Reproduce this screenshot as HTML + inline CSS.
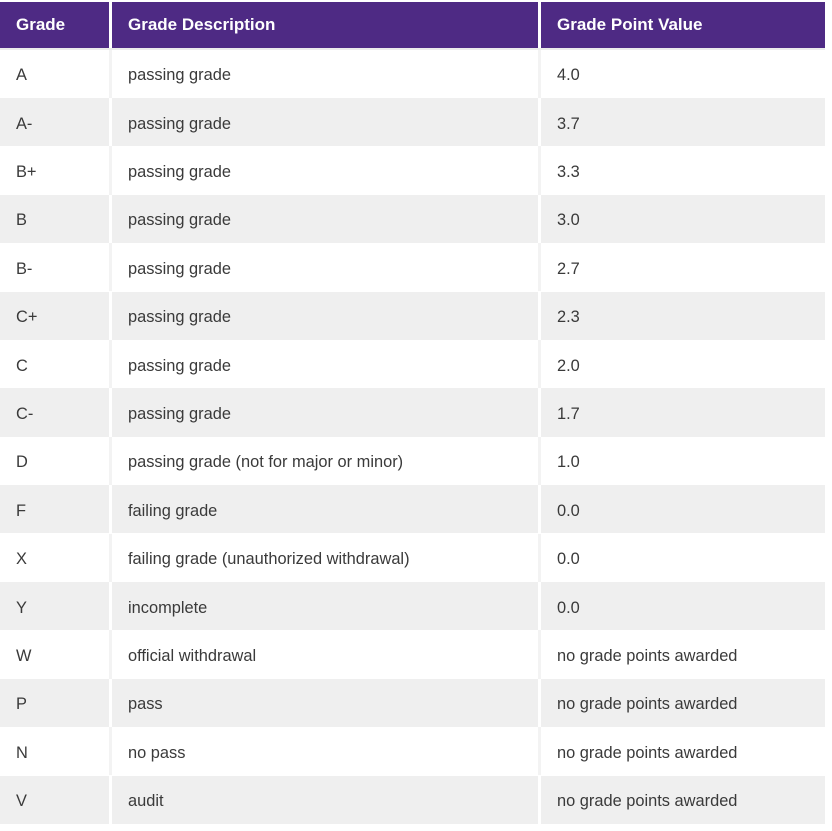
<!DOCTYPE html>
<html>
<head>
<meta charset="utf-8">
<style>
  html, body { margin: 0; padding: 0; background: #ffffff; }
  body { width: 832px; height: 831px; position: relative; overflow: hidden;
         font-family: "Liberation Sans", Arial, sans-serif; }
  .hdr { position: absolute; top: 2px; height: 46px; background: #4e2a84; color: #ffffff;
         font-weight: bold; font-size: 17px; line-height: 46px; box-sizing: border-box; padding-left: 16px; white-space: nowrap; }
  .line { position: absolute; left: 0; width: 825px; top: 48px; height: 2px; background: #ececec; }
  .row { position: absolute; left: 0; width: 825px; height: 48.4px; }
  .row.g { background: #efefef; }
  .row.w { background: #ffffff; }
  .cell { position: absolute; top: 0; height: 100%; display: flex; align-items: center;
          font-size: 16.4px; color: #3a3a3a; padding-left: 16px; padding-top: 4px; box-sizing: border-box; white-space: nowrap; }
  .c1 { left: 0; width: 109px; }
  .c2 { left: 112px; width: 426px; }
  .c3 { left: 541px; width: 284px; }
  .sep { position: absolute; top: 0; height: 100%; width: 3px; }
  .row.g .sep { background: #ffffff; }
  .row.w .sep { background: #f3f3f3; }
  .s1 { left: 109px; }
  .s2 { left: 538px; }
</style>
</head>
<body>
  <div class="hdr" style="left:0;width:109px;">Grade</div>
  <div class="hdr" style="left:112px;width:426px;">Grade Description</div>
  <div class="hdr" style="left:541px;width:284px;">Grade Point Value</div>
  <div class="line"></div>

  <div class="row w" style="top:49.5px"><div class="sep s1"></div><div class="sep s2"></div><div class="cell c1">A</div><div class="cell c2">passing grade</div><div class="cell c3">4.0</div></div>
  <div class="row g" style="top:97.9px"><div class="sep s1"></div><div class="sep s2"></div><div class="cell c1">A-</div><div class="cell c2">passing grade</div><div class="cell c3">3.7</div></div>
  <div class="row w" style="top:146.3px"><div class="sep s1"></div><div class="sep s2"></div><div class="cell c1">B+</div><div class="cell c2">passing grade</div><div class="cell c3">3.3</div></div>
  <div class="row g" style="top:194.7px"><div class="sep s1"></div><div class="sep s2"></div><div class="cell c1">B</div><div class="cell c2">passing grade</div><div class="cell c3">3.0</div></div>
  <div class="row w" style="top:243.1px"><div class="sep s1"></div><div class="sep s2"></div><div class="cell c1">B-</div><div class="cell c2">passing grade</div><div class="cell c3">2.7</div></div>
  <div class="row g" style="top:291.5px"><div class="sep s1"></div><div class="sep s2"></div><div class="cell c1">C+</div><div class="cell c2">passing grade</div><div class="cell c3">2.3</div></div>
  <div class="row w" style="top:339.9px"><div class="sep s1"></div><div class="sep s2"></div><div class="cell c1">C</div><div class="cell c2">passing grade</div><div class="cell c3">2.0</div></div>
  <div class="row g" style="top:388.3px"><div class="sep s1"></div><div class="sep s2"></div><div class="cell c1">C-</div><div class="cell c2">passing grade</div><div class="cell c3">1.7</div></div>
  <div class="row w" style="top:436.7px"><div class="sep s1"></div><div class="sep s2"></div><div class="cell c1">D</div><div class="cell c2">passing grade (not for major or minor)</div><div class="cell c3">1.0</div></div>
  <div class="row g" style="top:485.1px"><div class="sep s1"></div><div class="sep s2"></div><div class="cell c1">F</div><div class="cell c2">failing grade</div><div class="cell c3">0.0</div></div>
  <div class="row w" style="top:533.5px"><div class="sep s1"></div><div class="sep s2"></div><div class="cell c1">X</div><div class="cell c2">failing grade (unauthorized withdrawal)</div><div class="cell c3">0.0</div></div>
  <div class="row g" style="top:581.9px"><div class="sep s1"></div><div class="sep s2"></div><div class="cell c1">Y</div><div class="cell c2">incomplete</div><div class="cell c3">0.0</div></div>
  <div class="row w" style="top:630.3px"><div class="sep s1"></div><div class="sep s2"></div><div class="cell c1">W</div><div class="cell c2">official withdrawal</div><div class="cell c3">no grade points awarded</div></div>
  <div class="row g" style="top:678.7px"><div class="sep s1"></div><div class="sep s2"></div><div class="cell c1">P</div><div class="cell c2">pass</div><div class="cell c3">no grade points awarded</div></div>
  <div class="row w" style="top:727.1px"><div class="sep s1"></div><div class="sep s2"></div><div class="cell c1">N</div><div class="cell c2">no pass</div><div class="cell c3">no grade points awarded</div></div>
  <div class="row g" style="top:775.5px"><div class="sep s1"></div><div class="sep s2"></div><div class="cell c1">V</div><div class="cell c2">audit</div><div class="cell c3">no grade points awarded</div></div>
</body>
</html>
